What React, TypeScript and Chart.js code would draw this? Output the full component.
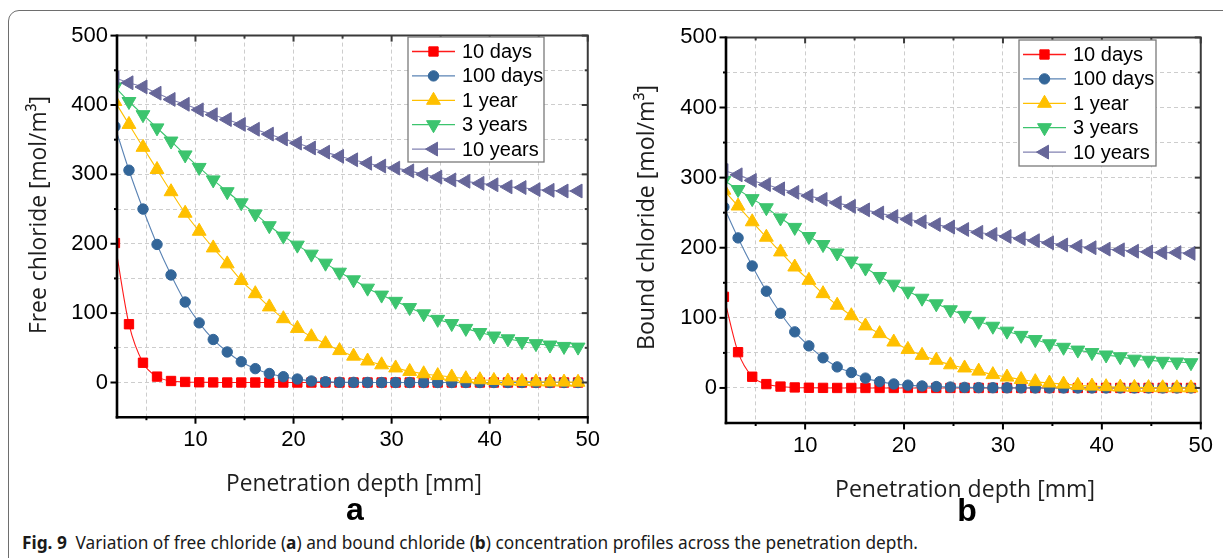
import React, { useEffect, useLayoutEffect, useRef } from 'react';
import { Chart, registerables } from 'chart.js';

Chart.register(...registerables);

// ---------- data ----------
const DEPTH_MM = [
  1.79, 3.22, 4.65, 6.08, 7.51, 8.95, 10.38, 11.81, 13.24, 14.67, 16.1, 17.53,
  18.96, 20.39, 21.82, 23.26, 24.69, 26.12, 27.55, 28.98, 30.41, 31.84, 33.27,
  34.7, 36.13, 37.57, 39.0, 40.43, 41.86, 43.29, 44.72, 46.15, 47.58, 49.01,
];

const SERIES_NAMES = ['10 days', '100 days', '1 year', '3 years', '10 years'];

// panel a: free chloride [mol/m3]
const FREE_10_DAYS = [
  201, 84, 28.5, 8.5, 2.2, 0.8, 0.3, 0.1, 0, 0, 0, 0, 0, 0, 0, 0, 0, 0, 0, 0, 0,
  0, 0, 0, 0, 0, 0, 0, 0, 0, 0, 0, 0, 0,
];
const FREE_100_DAYS = [
  369, 306, 250, 199, 155, 116, 86, 62, 44, 30, 20, 13, 8.4, 5, 2.2, 1.2, 0.3,
  0.2, 0.1, 0, 0, 0, 0, 0, 0, 0, 0, 0, 0, 0, 0, 0, 0, 0,
];
const FREE_1_YEAR = [
  405, 372, 339, 307, 275, 244, 218, 194, 171, 147, 128, 109, 92, 78, 66, 56,
  46, 38, 31, 25.5, 21, 16, 12.6, 10, 8, 5.5, 4, 3, 2, 1.5, 1, 0.8, 0.6, 0.4,
];
const FREE_3_YEARS = [
  426, 405, 386, 367, 348, 328, 310, 292, 275, 259, 243, 226, 211, 198, 185,
  172, 159, 148, 136, 126, 117, 108, 99, 91, 85, 78, 72, 67, 63, 59, 56, 54, 52,
  51,
];
const FREE_10_YEARS = [
  439, 432, 426, 417, 408, 401, 393, 386, 379, 372, 365, 358, 351, 345, 338,
  332, 326, 321, 316, 312, 309, 305, 300, 296, 292, 290, 287, 285, 282, 281,
  278, 277, 276, 276,
];

// panel b: bound chloride [mol/m3]
const BOUND_10_DAYS = [
  130, 51, 16, 5.5, 2, 0.7, 0.3, 0.1, 0, 0, 0, 0, 0, 0, 0, 0, 0, 0, 0, 0, 0, 0,
  0, 0, 0, 0, 0, 0, 0, 0, 0, 0, 0, 0,
];
const BOUND_100_DAYS = [
  258, 214, 174, 138, 106.5, 80, 60, 43, 30, 22, 14, 9, 5.7, 4, 2.8, 2, 1.3,
  0.8, 0.5, 0.3, 0.2, 0.1, 0, 0, 0, 0, 0, 0, 0, 0, 0, 0, 0, 0,
];
const BOUND_1_YEAR = [
  282, 259.5, 237, 215, 194, 172.5, 153.5, 134.5, 118, 103, 88.5, 77.5, 65.5,
  55, 46.5, 39.5, 33, 28.5, 24, 19, 15.5, 12, 9, 7, 5.5, 3.7, 2.6, 1.8, 1.2,
  0.8, 0.5, 0.3, 0.2, 0.1,
];
const BOUND_3_YEARS = [
  296, 283, 270, 257, 242.5, 229, 216, 204.5, 192.5, 181, 171, 159, 148, 138,
  128, 120, 111.5, 103.5, 95, 88, 81, 75, 69, 63, 58, 54, 50.5, 47, 44.5, 41,
  39.5, 38, 37, 36,
];
const BOUND_10_YEARS = [
  310, 304, 296, 290, 284, 279, 274, 269, 264, 259, 254, 249.5, 244.5, 240.5,
  237, 233, 229.5, 226, 222, 219, 216, 213, 210, 207, 204, 202, 200, 198, 197,
  195, 194, 193, 193, 192,
];

// axes
const X_GRID = [5, 10, 15, 20, 25, 30, 35, 40, 45, 50];
const X_LABELS = [10, 20, 30, 40, 50];
const Y_GRID = [-50, 0, 50, 100, 150, 200, 250, 300, 350, 400, 450, 500];
const Y_LABELS = [0, 100, 200, 300, 400, 500];
const X_MIN = 2;
const X_MAX = 50;
const Y_MIN = -50;
const Y_MAX = 500;

const X_TITLE = 'Penetration depth [mm]';
const Y_TITLE_A = 'Free chloride [mol/m\u00B3]';
const Y_TITLE_B = 'Bound chloride [mol/m\u00B3]';

// ---------- styles ----------
const SERIES_STYLE = [
  { fill: '#ff0000', line: '#ff1a1a', shape: 'rect', r: 6.6, rot: 0 },
  { fill: '#336699', line: '#5a83b4', shape: 'circle', r: 5.2, rot: 0 },
  { fill: '#ffc000', line: '#ffc000', shape: 'triangle', r: 8, rot: 0 },
  { fill: '#3cc46e', line: '#3cc46e', shape: 'triangle', r: 8, rot: 180 },
  { fill: '#666699', line: '#8282b2', shape: 'triangle', r: 8, rot: 270 },
];

const TICK_FONT = '"Liberation Sans", Arial, sans-serif';
const TITLE_FONT = '"Open Sans", "Noto Sans", sans-serif';

type PanelCfg = {
  pageLeft: number;
  width: number;
  height: number;
  area: { left: number; top: number; right: number; bottom: number };
  series: number[][];
  yTitle: string;
  yTitlePos: { x: number; y: number; w: number };
  xTitlePos: { x: number; y: number; w: number };
  legend: { x: number; y: number; w: number; h: number };
};

const PANEL_A: PanelCfg = {
  pageLeft: 0,
  width: 610,
  height: 510,
  area: { left: 117, top: 35.6, right: 591, bottom: 417.2 },
  series: [FREE_10_DAYS, FREE_100_DAYS, FREE_1_YEAR, FREE_3_YEARS, FREE_10_YEARS],
  yTitle: Y_TITLE_A,
  yTitlePos: { x: 46, y: 215, w: 238 },
  xTitlePos: { x: 354, y: 490.5, w: 256 },
  legend: { x: 408, y: 37, w: 136, h: 125 },
};

const PANEL_B: PanelCfg = {
  pageLeft: 610,
  width: 613,
  height: 510,
  area: { left: 116, top: 37.4, right: 593, bottom: 423 },
  series: [BOUND_10_DAYS, BOUND_100_DAYS, BOUND_1_YEAR, BOUND_3_YEARS, BOUND_10_YEARS],
  yTitle: Y_TITLE_B,
  yTitlePos: { x: 44, y: 217.5, w: 265 },
  xTitlePos: { x: 355, y: 496.5, w: 260 },
  legend: { x: 409, y: 40, w: 137, h: 126 },
};

function drawMarker(
  ctx: CanvasRenderingContext2D,
  shape: string,
  x: number,
  y: number,
  r: number,
  rot: number,
  color: string
) {
  ctx.save();
  ctx.fillStyle = color;
  ctx.strokeStyle = color;
  ctx.lineWidth = 1;
  ctx.beginPath();
  if (shape === 'circle') {
    ctx.arc(x, y, r, 0, Math.PI * 2);
  } else if (shape === 'rect') {
    const s = r * Math.SQRT1_2;
    ctx.rect(x - s, y - s, 2 * s, 2 * s);
  } else {
    let a = (rot * Math.PI) / 180;
    ctx.moveTo(x + Math.sin(a) * r, y - Math.cos(a) * r);
    for (let i = 0; i < 2; i++) {
      a += (2 * Math.PI) / 3;
      ctx.lineTo(x + Math.sin(a) * r, y - Math.cos(a) * r);
    }
    ctx.closePath();
  }
  ctx.fill();
  ctx.stroke();
  ctx.restore();
}

function drawTitle(
  ctx: CanvasRenderingContext2D,
  text: string,
  x: number,
  y: number,
  targetW: number,
  rotated: boolean
) {
  ctx.save();
  ctx.font = `24.5px ${TITLE_FONT}`;
  ctx.fillStyle = '#1e1e1e';
  ctx.textAlign = 'center';
  ctx.textBaseline = 'alphabetic';
  const w = ctx.measureText(text).width;
  ctx.translate(x, y);
  if (rotated) ctx.rotate(-Math.PI / 2);
  ctx.scale(targetW / w, 1);
  ctx.fillText(text, 0, 0);
  ctx.restore();
}

function makeOverlay(p: PanelCfg) {
  return {
    id: 'overlay' + p.pageLeft,
    afterDatasetsDraw(chart: any) {
      const ctx: CanvasRenderingContext2D = chart.ctx;
      const { left, right, top, bottom } = chart.chartArea;
      const xs = chart.scales.x;
      const ys = chart.scales.y;
      const seg = (x1: number, y1: number, x2: number, y2: number) => {
        ctx.beginPath();
        ctx.moveTo(x1, y1);
        ctx.lineTo(x2, y2);
        ctx.stroke();
      };
      ctx.save();
      ctx.lineCap = 'butt';
      // top / right frame with inward ticks
      ctx.strokeStyle = '#3a3a3a';
      ctx.lineWidth = 2;
      seg(left, top, right + 1, top);
      seg(right, top, right, bottom);
      for (const v of X_GRID) {
        const px = xs.getPixelForValue(v);
        const len = X_LABELS.includes(v) ? 6 : 3;
        seg(px, top, px, top + len);
      }
      for (const v of Y_GRID) {
        if (v <= Y_MIN) continue;
        const py = ys.getPixelForValue(v);
        const len = Y_LABELS.includes(v) ? 6 : 3;
        seg(right - len, py, right, py);
      }
      // left / bottom axes with outward ticks
      ctx.strokeStyle = '#000';
      ctx.lineWidth = 2.6;
      seg(left, top - 1, left, bottom + 1.3);
      seg(left - 1.3, bottom, right + 1, bottom);
      ctx.lineWidth = 2;
      for (const v of X_GRID) {
        const px = xs.getPixelForValue(v);
        const len = X_LABELS.includes(v) ? 6.5 : 3;
        seg(px, bottom, px, bottom + len);
      }
      for (const v of Y_GRID) {
        if (v <= Y_MIN) continue;
        const py = ys.getPixelForValue(v);
        const len = Y_LABELS.includes(v) ? 6.5 : 3;
        seg(left - len, py, left, py);
      }
      // legend
      const L = p.legend;
      ctx.fillStyle = '#ffffff';
      ctx.fillRect(L.x, L.y, L.w, L.h);
      ctx.strokeStyle = '#7a7a7a';
      ctx.lineWidth = 1.3;
      ctx.strokeRect(L.x, L.y, L.w, L.h);
      ctx.font = `20px ${TICK_FONT}`;
      ctx.textBaseline = 'middle';
      ctx.textAlign = 'left';
      SERIES_NAMES.forEach((name, i) => {
        const st = SERIES_STYLE[i];
        const ry = L.y + 14.5 + i * 24.4;
        ctx.strokeStyle = st.line;
        ctx.lineWidth = 1.3;
        seg(L.x + 4, ry, L.x + 47, ry);
        drawMarker(ctx, st.shape, L.x + 25.5, ry, st.r, st.rot, st.fill);
        ctx.fillStyle = '#000';
        ctx.fillText(name, L.x + 54, ry + 1);
      });
      ctx.restore();
    },
    afterDraw(chart: any) {
      const ctx: CanvasRenderingContext2D = chart.ctx;
      drawTitle(ctx, p.yTitle, p.yTitlePos.x, p.yTitlePos.y, p.yTitlePos.w, true);
      drawTitle(ctx, X_TITLE, p.xTitlePos.x, p.xTitlePos.y, p.xTitlePos.w, false);
    },
  };
}

function makeChart(canvas: HTMLCanvasElement, p: PanelCfg) {
  const xAxisH = 40;
  return new Chart(canvas, {
    type: 'line',
    data: {
      datasets: p.series.map((vals, i) => {
        const st = SERIES_STYLE[i];
        return {
          label: SERIES_NAMES[i],
          data: DEPTH_MM.map((x, j) => ({ x, y: vals[j] })),
          borderColor: st.line,
          backgroundColor: st.fill,
          borderWidth: 1.1,
          pointStyle: st.shape,
          pointRadius: st.r,
          pointRotation: st.rot,
          pointBackgroundColor: st.fill,
          pointBorderColor: st.fill,
          pointBorderWidth: 1,
          cubicInterpolationMode: 'monotone',
          order: SERIES_NAMES.length - i,
          clip: 0,
        } as any;
      }),
    },
    options: {
      responsive: false,
      animation: false,
      devicePixelRatio: 1,
      events: [],
      layout: {
        padding: {
          left: 0,
          top: p.area.top,
          right: p.width - p.area.right,
          bottom: p.height - p.area.bottom - xAxisH,
        },
      },
      plugins: {
        legend: { display: false },
        tooltip: { enabled: false },
        title: { display: false },
      },
      scales: {
        x: {
          type: 'linear',
          min: X_MIN,
          max: X_MAX,
          afterBuildTicks: (s: any) => {
            s.ticks = X_GRID.map((v) => ({ value: v }));
          },
          afterFit: (s: any) => {
            s.height = xAxisH;
          },
          grid: { color: '#cdcdcd', lineWidth: 1, drawTicks: false },
          border: { display: false, dash: [4, 3] },
          ticks: {
            padding: 10,
            color: '#000',
            maxRotation: 0,
            autoSkip: false,
            font: { family: TICK_FONT, size: 22 },
            callback: (v: any) => (X_LABELS.includes(Number(v)) ? String(v) : ''),
          },
        },
        y: {
          type: 'linear',
          min: Y_MIN,
          max: Y_MAX,
          afterBuildTicks: (s: any) => {
            s.ticks = Y_GRID.map((v) => ({ value: v }));
          },
          afterFit: (s: any) => {
            s.width = p.area.left;
          },
          grid: { color: '#cdcdcd', lineWidth: 1, drawTicks: false },
          border: { display: false, dash: [4, 3] },
          ticks: {
            padding: 9,
            color: '#000',
            autoSkip: false,
            font: { family: TICK_FONT, size: 22 },
            callback: (v: any) => (Y_LABELS.includes(Number(v)) ? String(v) : ''),
          },
        },
      },
    } as any,
    plugins: [makeOverlay(p)],
  });
}

export default function App() {
  const refA = useRef<HTMLCanvasElement>(null);
  const refB = useRef<HTMLCanvasElement>(null);
  const capRef = useRef<HTMLDivElement>(null);

  useEffect(() => {
    const a = makeChart(refA.current!, PANEL_A);
    const b = makeChart(refB.current!, PANEL_B);
    return () => {
      a.destroy();
      b.destroy();
    };
  }, []);

  useLayoutEffect(() => {
    const el = capRef.current;
    if (!el) return;
    el.style.transform = 'none';
    const w = el.getBoundingClientRect().width;
    el.style.transform = `scaleX(${896 / w})`;
  }, []);

  const letterStyle = (x: number, baseline: number): React.CSSProperties => ({
    position: 'absolute',
    left: x,
    top: baseline - 27,
    width: 40,
    marginLeft: -20,
    textAlign: 'center',
    font: `bold 32px ${TICK_FONT}`,
    lineHeight: '32px',
    height: 32,
    color: '#000',
  });

  return (
    <div
      style={{
        position: 'fixed',
        left: 0,
        top: 0,
        width: 1223,
        height: 558,
        overflow: 'hidden',
        background: '#fff',
      }}
    >
      <div
        style={{
          position: 'absolute',
          left: 7.5,
          top: 9.5,
          width: 1300,
          height: 700,
          border: '1.4px solid #6e6e6e',
          borderRadius: 11,
        }}
      />
      <canvas
        ref={refA}
        width={PANEL_A.width}
        height={PANEL_A.height}
        style={{ position: 'absolute', left: PANEL_A.pageLeft, top: 0 }}
      />
      <canvas
        ref={refB}
        width={PANEL_B.width}
        height={PANEL_B.height}
        style={{ position: 'absolute', left: PANEL_B.pageLeft, top: 0 }}
      />
      <div style={letterStyle(355, 520)}>a</div>
      <div style={letterStyle(967, 520.5)}>b</div>
      <div
        ref={capRef}
        style={{
          position: 'absolute',
          left: 22,
          top: 531,
          whiteSpace: 'nowrap',
          transformOrigin: '0 0',
          font: '17.5px "Noto Sans", "Open Sans", sans-serif',
          lineHeight: '22px',
          color: '#1a1a1a',
        }}
      >
        <b>Fig. 9</b>
        {'\u2002Variation of free chloride ('}
        <b>a</b>
        {') and bound chloride ('}
        <b>b</b>
        {') concentration profiles across the penetration depth.'}
      </div>
    </div>
  );
}
